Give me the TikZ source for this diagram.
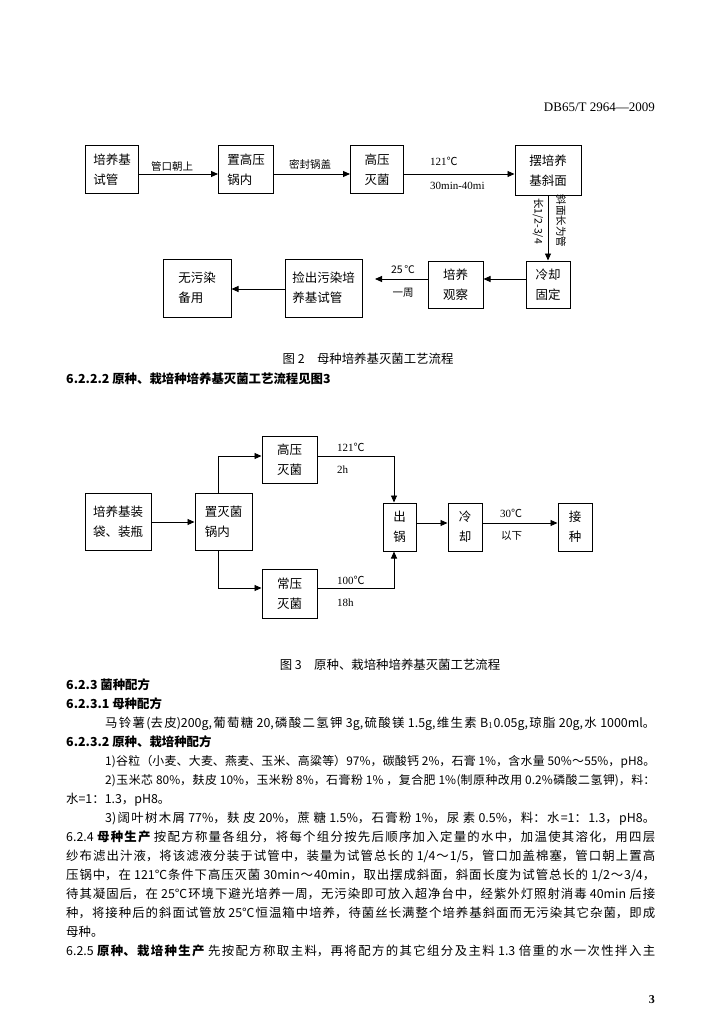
\documentclass[tikz,border=0pt]{standalone}
\usepackage{fontspec}
\setmainfont{Liberation Serif}
\newfontfamily\cjk{Noto Sans CJK SC}
\usetikzlibrary{arrows.meta}
\XeTeXlinebreaklocale "zh"
\XeTeXlinebreakskip=0pt plus 3pt minus 1.2pt
\newcommand\myBody{\cjk\fontsize{12.4}{19}\selectfont}
\newcommand\myBodyS{\cjk\fontsize{11.9}{19}\selectfont}
\newcommand\myBox{\cjk\fontsize{12.5}{20}\selectfont}
\newcommand\myLbl{\cjk\fontsize{10.5}{12}\selectfont}
\newcommand\myLat{\fontsize{11}{12}\selectfont}
\newcommand\dc{{\cjk ℃}}
\newcommand\fj{\parfillskip=0pt\relax}
\begin{document}
\begin{tikzpicture}[x=1pt,y=-1pt,
  bx/.style={draw, line width=1pt, align=left, inner sep=0pt, font=\myBox},
  arr/.style={line width=0.9pt, -{Triangle[length=7pt,width=6pt]}},
  lbl/.style={inner sep=0pt, font=\myLbl},
  lat/.style={inner sep=0pt, font=\myLat, anchor=west},
  jl/.style={anchor=base west, inner sep=0pt, text width=#1, align=justify, font=\myBody},
  tl/.style={anchor=base west, inner sep=0pt, font=\myBody},
]
\fill[white] (0,0) rectangle (724,1024);
\useasboundingbox (0,0) rectangle (724,1024);

% header
\node[anchor=base east, inner sep=0pt, font=\fontsize{13}{14}\selectfont] (hdr) at (655,112) {DB65/T 2964—2009};

% ---------- Figure 2 ----------
\node[bx, minimum width=53pt, minimum height=48pt] (p1) at (112,170) {培养基\\试管};
\node[bx, minimum width=55pt, minimum height=48pt] (p2) at (246,170) {置高压\\锅内};
\node[bx, minimum width=53pt, minimum height=48pt] (p3) at (377,170) {高压\\灭菌};
\node[bx, minimum width=66pt, minimum height=50pt] (p4) at (548,171) {摆培养\\基斜面};
\node[bx, minimum width=44pt, minimum height=47pt] (p5) at (548,284.5) {冷却\\固定};
\node[bx, minimum width=55pt, minimum height=47pt] (p6) at (455.5,284.5) {培养\\观察};
\node[bx, minimum width=77pt, minimum height=58pt] (p7) at (323.5,288) {捡出污染培\\养基试管};
\node[bx, minimum width=68pt, minimum height=58pt] (p8) at (197,288) {无污染\\备用};

\coordinate (r1) at (0,174);
\draw[arr] (p1.east |- r1) -- (p2.west |- r1);
\draw[arr] (p2.east |- r1) -- (p3.west |- r1);
\draw[arr] (p3.east |- r1) -- (p4.west |- r1);
\draw[arr] (p4.south) -- (p5.north);
\coordinate (r2) at (0,279);
\coordinate (t7) at (375,279);
\draw[arr] (p5.west |- r2) -- (p6.east |- r2);
\draw[arr] (p6.west |- r2) -- (t7);
\coordinate (r3) at (0,289);
\draw[arr] (p7.west |- r3) -- (p8.east |- r3);

\node[lbl] (l1) at (172,167) {管口朝上};
\node[lbl] (l2) at (310,164) {密封锅盖};
\node[lat] (l3) at (430,161) {121\dc};
\node[lat] (l4) at (430,186) {30min-40mi};
\node[lbl] (l5) at (403,270) {25\,℃};
\node[lbl] (l6) at (403,293) {一周};
\node[lbl, rotate=-90] (l7) at (561,221) {斜面长为管};
\node[lbl, rotate=-90] (l8) at (538,221) {长1/2-3/4};

\node[anchor=center, inner sep=0pt, font=\myBody] (cap2) at (368,359) {图 2\quad 母种培养基灭菌工艺流程};
\node[tl] (h6222) at (66,383) {\bfseries 6.2.2.2 原种、栽培种培养基灭菌工艺流程见图3};

% ---------- Figure 3 ----------
\node[bx, minimum width=66pt, minimum height=57pt] (a) at (118,521.5) {培养基装\\袋、装瓶};
\node[bx, minimum width=57pt, minimum height=57pt] (b) at (223.5,521.5) {置灭菌\\锅内};
\node[bx, minimum width=55pt, minimum height=47pt] (c) at (289.5,459.5) {高压\\灭菌};
\node[bx, minimum width=55pt, minimum height=49pt] (d) at (289.5,593.5) {常压\\灭菌};
\node[bx, align=center, minimum width=33pt, minimum height=48pt] (e) at (399.5,527) {出\\锅};
\node[bx, align=center, minimum width=34pt, minimum height=48pt] (f) at (465,527) {冷\\却};
\node[bx, align=center, minimum width=34pt, minimum height=48pt] (g) at (575,527) {接\\种};

\coordinate (bxx) at (218,0);
\coordinate (cu) at (0,456);
\coordinate (dl) at (0,588);
\coordinate (exx) at (394,0);
\draw[arr] (b.north -| bxx) |- (c.west |- cu);
\draw[arr] (b.south -| bxx) |- (d.west |- dl);
\draw[arr] (c.east |- cu) -| (e.north -| exx);
\draw[arr] (d.east |- dl) -| (e.south -| exx);
\coordinate (r4) at (0,522);
\coordinate (r5) at (0,523);
\draw[arr] (a.east |- r4) -- (b.west |- r4);
\draw[arr] (e.east |- r5) -- (f.west |- r5);
\draw[arr] (f.east |- r5) -- (g.west |- r5);

\node[lat] (m1) at (337,447) {121\dc};
\node[lat] (m2) at (337,470) {2h};
\node[lat] (m3) at (337,580) {100\dc};
\node[lat] (m4) at (337,603) {18h};
\node[lat] (m5) at (500,513) {30\dc};
\node[lbl, anchor=west] (m6) at (501,536) {以下};

\node[anchor=center, inner sep=0pt, font=\myBody] (cap3) at (390,665) {图 3\quad 原种、栽培种培养基灭菌工艺流程};

% ---------- Text ----------
\node[tl] (t1) at (66,689) {\bfseries 6.2.3 菌种配方};
\node[tl] (t2) at (66,708) {\bfseries 6.2.3.1 母种配方};
\node[jl=550pt] (t3) at (105,727) {\fj 马铃薯(去皮)200g,葡萄糖 20,磷酸二氢钾 3g,硫酸镁 1.5g,维生素 B$_1$0.05g,琼脂 20g,水 1000ml。\par};
\node[tl] (t4) at (66,746) {\bfseries 6.2.3.2 原种、栽培种配方};
\node[jl=550pt, font=\myBodyS] (t5) at (105,765) {\fj 1)谷粒（小麦、大麦、燕麦、玉米、高粱等）97\%，碳酸钙 2\%，石膏 1\%，含水量 50\%～55\%，pH8。\par};
\node[jl=550pt, font=\myBodyS] (t6) at (105,784) {\fj 2)玉米芯 80\%，麸皮 10\%，玉米粉 8\%，石膏粉 1\% ，复合肥 1\%(制原种改用 0.2\%磷酸二氢钾)，料：\par};
\node[tl] (t7) at (66,803) {水=1：1.3，pH8。};
\node[jl=550pt] (t8) at (105,822) {\fj 3)阔叶树木屑 77\%，麸 皮 20\%，蔗 糖 1.5\%，石膏粉 1\%，尿 素 0.5\%，料：水=1：1.3，pH8。\par};
\node[jl=589pt] (t9) at (66,841) {\fj 6.2.4 {\bfseries 母种生产} 按配方称量各组分，将每个组分按先后顺序加入定量的水中，加温使其溶化，用四层\par};
\node[jl=589pt] (t10) at (66,860) {\fj 纱布滤出汁液，将该滤液分装于试管中，装量为试管总长的 1/4～1/5，管口加盖棉塞，管口朝上置高\par};
\node[jl=589pt] (t11) at (66,879) {\fj 压锅中，在 121℃条件下高压灭菌 30min～40min，取出摆成斜面，斜面长度为试管总长的 1/2～3/4，\par};
\node[jl=589pt] (t12) at (66,898) {\fj 待其凝固后，在 25℃环境下避光培养一周，无污染即可放入超净台中，经紫外灯照射消毒 40min 后接\par};
\node[jl=589pt] (t13) at (66,917) {\fj 种，将接种后的斜面试管放 25℃恒温箱中培养，待菌丝长满整个培养基斜面而无污染其它杂菌，即成\par};
\node[tl] (t14) at (66,936) {母种。};
\node[jl=589pt] (t15) at (66,955) {\fj 6.2.5 {\bfseries 原种、栽培种生产} 先按配方称取主料，再将配方的其它组分及主料 1.3 倍重的水一次性拌入主\par};

\node[anchor=base east, inner sep=0pt, font=\bfseries\fontsize{12}{13}\selectfont] (pg) at (655,1003) {3};
\end{tikzpicture}
\end{document}
